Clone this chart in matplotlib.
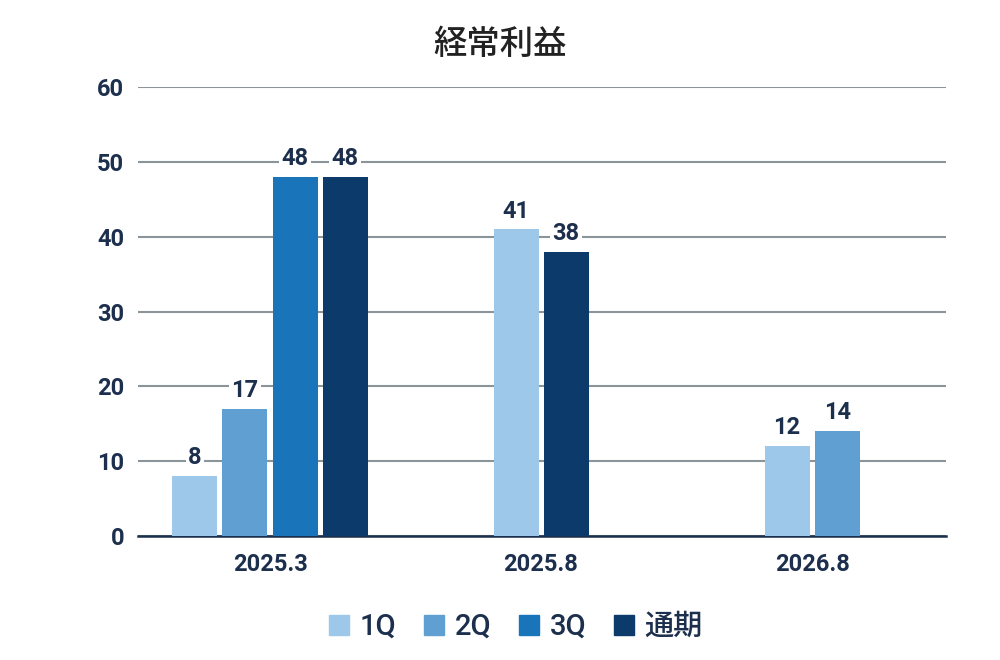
import matplotlib
matplotlib.use("Agg")
import matplotlib.pyplot as plt
from matplotlib.lines import Line2D

plt.rcParams['font.family'] = ['Roboto', 'Noto Sans CJK JP', 'DejaVu Sans']

categories = ["2025.3", "2025.8", "2026.8"]
series = ["1Q", "2Q", "3Q", "通期"]
values = {
    "1Q": [8, 41, 12],
    "2Q": [17, None, 14],
    "3Q": [48, None, None],
    "通期": [48, 38, None],
}
colors = ["#9dc8ea", "#5f9fd1", "#1a74b9", "#0b3a6b"]
text_color = "#1c2f4d"

fig = plt.figure(figsize=(10, 6.6), dpi=100)
ax = fig.add_axes([0.138, 0.188, 0.808, 0.68])

width = 0.166
step = 0.1845
for ci, cat in enumerate(categories):
    present = [s for s in series if values[s][ci] is not None]
    n = len(present)
    for k, s in enumerate(present):
        x = ci + (k - (n - 1) / 2) * step
        v = values[s][ci]
        ax.bar(x, v, width, color=colors[series.index(s)], zorder=3)
        ax.text(x, v + 0.9, str(v), ha="center", va="bottom", fontsize=17,
                fontweight="semibold", color=text_color, zorder=4,
                bbox=dict(boxstyle="square,pad=0.1", fc="white", ec="none"))

ax.set_xlim(-0.487, 2.494)
ax.set_ylim(0, 60)
ax.set_yticks(range(0, 61, 10))
ax.set_xticks(range(len(categories)))
ax.set_xticklabels(categories)
ax.yaxis.grid(True, color="#8a9499", linewidth=1.5, zorder=0)
ax.set_axisbelow(True)
for side in ["top", "right", "left"]:
    ax.spines[side].set_visible(False)
ax.spines["bottom"].set_color(text_color)
ax.spines["bottom"].set_linewidth(1.8)
ax.tick_params(axis="both", length=0, labelsize=17, labelcolor=text_color)
for lab in ax.get_xticklabels() + ax.get_yticklabels():
    lab.set_fontweight("semibold")
ax.tick_params(axis="x", pad=12)
ax.tick_params(axis="y", pad=10)

fig.text(0.5, 0.932, "経常利益", ha="center", va="center", fontsize=24,
         fontweight="medium", color="#222222",
         family=['Noto Sans CJK JP', 'DejaVu Sans'])

handles = [Line2D([], [], marker="s", linestyle="none", markersize=15,
                  markerfacecolor=c, markeredgecolor=c) for c in colors]
leg = fig.legend(handles, series, loc="center", bbox_to_anchor=(0.515, 0.05),
                 ncol=4, frameon=False, fontsize=21, handlelength=0.8,
                 handletextpad=0.3, columnspacing=0.9, labelcolor=text_color)
for t in leg.get_texts():
    t.set_fontweight("medium")

fig.savefig("out.png", dpi=100, facecolor="white")
